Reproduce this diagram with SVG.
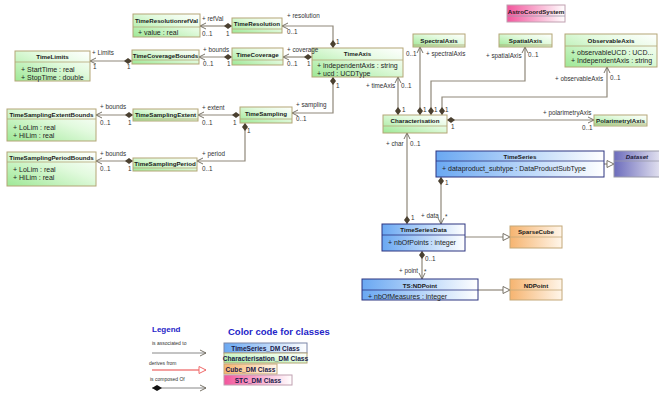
<svg xmlns="http://www.w3.org/2000/svg" width="659" height="394" viewBox="0 0 659 394">
<defs>
<linearGradient id="gG" x1="0" y1="1" x2="1" y2="0"><stop offset="0" stop-color="#9ee896"/><stop offset="0.6" stop-color="#e2fade"/><stop offset="1" stop-color="#ffffff"/></linearGradient>
<linearGradient id="gB" x1="0" y1="0" x2="1" y2="0"><stop offset="0" stop-color="#6aa8f2"/><stop offset="1" stop-color="#ffffff"/></linearGradient>
<linearGradient id="gP" x1="0" y1="0" x2="1" y2="0"><stop offset="0" stop-color="#6c6cbc"/><stop offset="1" stop-color="#ecebf4"/></linearGradient>
<linearGradient id="gO" x1="0" y1="0" x2="1" y2="0"><stop offset="0" stop-color="#f6b470"/><stop offset="1" stop-color="#fff6ea"/></linearGradient>
<linearGradient id="gK" x1="0" y1="0" x2="1" y2="0"><stop offset="0" stop-color="#f2559c"/><stop offset="1" stop-color="#ffffff"/></linearGradient>
<marker id="dia" markerUnits="userSpaceOnUse" markerWidth="12" markerHeight="8" refX="0" refY="4" orient="auto" viewBox="0 0 12 8" overflow="visible"><path d="M0,4 L4,1 L8,4 L4,7 z" fill="#4a4030"/></marker>
<marker id="arr" markerUnits="userSpaceOnUse" markerWidth="8" markerHeight="8" refX="7" refY="4" orient="auto" viewBox="0 0 8 8" overflow="visible"><path d="M1,1 L7,4 L1,7" fill="none" stroke="#6a6458" stroke-width="0.9"/></marker>
<marker id="tri" markerUnits="userSpaceOnUse" markerWidth="9" markerHeight="9" refX="8" refY="4.5" orient="auto" viewBox="0 0 9 9" overflow="visible"><path d="M1,1 L8,4.5 L1,8 z" fill="#fff" stroke="#6a6458" stroke-width="0.9"/></marker>
<marker id="triP" markerUnits="userSpaceOnUse" markerWidth="9" markerHeight="9" refX="8" refY="4.5" orient="auto" viewBox="0 0 9 9" overflow="visible"><path d="M1,1 L8,4.5 L1,8 z" fill="#fff" stroke="#f06a6a" stroke-width="1"/></marker>
<marker id="diaL" markerUnits="userSpaceOnUse" markerWidth="12" markerHeight="8" refX="0" refY="4" orient="auto" viewBox="0 0 12 8" overflow="visible"><path d="M0,4 L5,1 L10,4 L5,7 z" fill="#111"/></marker>
</defs>
<style>
text{font-family:"Liberation Sans",Arial,sans-serif;}
.n{font-size:6.2px;font-weight:bold;fill:#1a1a1a;text-anchor:middle;}
.ni{font-size:6.2px;font-weight:bold;font-style:italic;fill:#1a1a3a;text-anchor:middle;}
.a{font-size:7px;fill:#222;}
.l{font-size:6.3px;fill:#333;}
.g{fill:url(#gG);stroke:#b4a676;stroke-width:1;}
.b{fill:url(#gB);stroke:#2c3480;stroke-width:1;}
.p{fill:url(#gP);stroke:#9a9aa8;stroke-width:1;}
.o{fill:url(#gO);stroke:#c4a878;stroke-width:1;}
.k{fill:url(#gK);stroke:#c0a0b0;stroke-width:1;}
.sg{stroke:#b4a676;stroke-width:0.8;fill:none;}
.sb{stroke:#2c3480;stroke-width:0.8;fill:none;}
.so{stroke:#c4a878;stroke-width:0.8;fill:none;}
.sp{stroke:#9a9aa8;stroke-width:0.8;fill:none;}
.c{fill:none;stroke:#8f887a;stroke-width:1.2;}
.cd{marker-start:url(#dia);marker-end:url(#arr);}
.leg{font-size:5px;fill:#333;}
.lt{font-weight:bold;fill:#2424c8;}
.lb{font-size:6.6px;font-weight:bold;fill:#1a1a4a;text-anchor:middle;}
</style>

<g id="connectors">
<path class="c cd" d="M232,26 H200"/>
<path class="c cd" d="M333,48 V26 H282"/>
<path class="c cd" d="M232,57 H199"/>
<path class="c cd" d="M312,57 H283"/>
<path class="c cd" d="M132,61 H90"/>
<path class="c cd" d="M333,77 V113 H292"/>
<path class="c cd" d="M240,115 H198"/>
<path class="c cd" d="M133,115 H96"/>
<path class="c cd" d="M245,123 V161 H197"/>
<path class="c cd" d="M133,161 H96"/>
<path class="c cd" d="M398,115 V77"/>
<path class="c cd" d="M420,115 V47"/>
<path class="c cd" d="M431,115 V81 H525 V47"/>
<path class="c cd" d="M442,115 V97 H607 V67"/>
<path class="c cd" d="M447,120 H594"/>
<path class="c cd" d="M407,224 V133"/>
<path class="c cd" d="M441,177 V224"/>
<path class="c cd" d="M422,251 V279"/>
<path class="c" style="marker-end:url(#tri)" d="M604,164 H614"/>
<path class="c" style="marker-end:url(#tri)" d="M465,237 H510"/>
<path class="c" style="marker-end:url(#tri)" d="M478,290 H510"/>
</g>

<g id="TimeResolutionrefVal"><rect class="g" x="133" y="14" width="67" height="23"/><line class="sg" x1="133" y1="27" x2="200" y2="27"/><text class="n" x="166.5" y="23">TimeResolutionrefVal</text><text class="a" x="138" y="34.5">+ value : real</text></g>
<g id="TimeResolution"><rect class="g" x="232" y="18" width="50" height="15"/><line class="sg" x1="232" y1="29" x2="282" y2="29"/><text class="n" x="257" y="26">TimeResolution</text></g>
<g id="TimeCoverageBounds"><rect class="g" x="132" y="50" width="67" height="14"/><line class="sg" x1="132" y1="60" x2="199" y2="60"/><text class="n" x="165.5" y="57.5">TimeCoverageBounds</text></g>
<g id="TimeCoverage"><rect class="g" x="232" y="48" width="51" height="17"/><line class="sg" x1="232" y1="60" x2="283" y2="60"/><text class="n" x="257.5" y="57">TimeCoverage</text></g>
<g id="TimeLimits"><rect class="g" x="15" y="51" width="75" height="30"/><line class="sg" x1="15" y1="62" x2="90" y2="62"/><text class="n" x="52.5" y="59">TimeLimits</text><text class="a" x="21" y="71.5">+ StartTime : real</text><text class="a" x="21" y="79.5">+ StopTime : double</text></g>
<g id="TimeAxis"><rect class="g" x="312" y="48" width="91" height="29"/><line class="sg" x1="312" y1="60" x2="403" y2="60"/><text class="n" x="357.5" y="56">TimeAxis</text><text class="a" x="317" y="67.5">+ independentAxis : string</text><text class="a" x="317" y="75.5">+ ucd : UCDType</text></g>
<g id="TimeSampling"><rect class="g" x="240" y="107" width="52" height="16"/><line class="sg" x1="240" y1="119" x2="292" y2="119"/><text class="n" x="266" y="116">TimeSampling</text></g>
<g id="TimeSamplingExtent"><rect class="g" x="133" y="109" width="65" height="12"/><line class="sg" x1="133" y1="119" x2="198" y2="119"/><text class="n" x="165.5" y="117">TimeSamplingExtent</text></g>
<g id="TimeSamplingExtentBounds"><rect class="g" x="7" y="109" width="89" height="32"/><line class="sg" x1="7" y1="119" x2="96" y2="119"/><text class="n" x="51.5" y="117">TimeSamplingExtentBounds</text><text class="a" x="13" y="129.5">+ LoLim : real</text><text class="a" x="13" y="137.5">+ HiLim : real</text></g>
<g id="TimeSamplingPeriod"><rect class="g" x="133" y="158" width="64" height="13"/><line class="sg" x1="133" y1="168" x2="197" y2="168"/><text class="n" x="165" y="166">TimeSamplingPeriod</text></g>
<g id="TimeSamplingPeriodBounds"><rect class="g" x="7" y="152" width="89" height="34"/><line class="sg" x1="7" y1="162" x2="96" y2="162"/><text class="n" x="51.5" y="160">TimeSamplingPeriodBounds</text><text class="a" x="13" y="171.5">+ LoLim : real</text><text class="a" x="13" y="179.5">+ HiLim : real</text></g>
<g id="SpectralAxis"><rect class="g" x="413" y="34" width="52" height="13"/><line class="sg" x1="413" y1="45" x2="465" y2="45"/><text class="n" x="439" y="42.5">SpectralAxis</text></g>
<g id="SpatialAxis"><rect class="g" x="499" y="34" width="53" height="13"/><line class="sg" x1="499" y1="45" x2="552" y2="45"/><text class="n" x="525.5" y="42.5">SpatialAxis</text></g>
<g id="ObservableAxis"><rect class="g" x="565" y="34" width="92" height="33"/><line class="sg" x1="565" y1="46" x2="657" y2="46"/><text class="n" x="611" y="42.5">ObservableAxis</text><text class="a" x="571" y="54.5">+ observableUCD : UCD...</text><text class="a" x="571" y="63">+ IndependentAxis : string</text></g>
<g id="AstroCoordSystem"><rect class="k" x="507" y="5" width="58" height="17"/><line class="sp" x1="507" y1="16" x2="565" y2="16"/><text class="n" x="536" y="13.5">AstroCoordSystem</text></g>
<g id="Characterisation"><rect class="g" x="383" y="115" width="64" height="18"/><line class="sg" x1="383" y1="126" x2="447" y2="126"/><text class="n" x="415" y="123">Characterisation</text></g>
<g id="PolarimetryIAxis"><rect class="g" x="594" y="115" width="53" height="11"/><line class="sg" x1="594" y1="124" x2="647" y2="124"/><text class="n" x="620.5" y="122.5">PolarimetryIAxis</text></g>
<g id="TimeSeries"><rect class="b" x="436" y="151" width="168" height="26"/><line class="sb" x1="436" y1="161" x2="604" y2="161"/><text class="n" x="520" y="158.5">TimeSeries</text><text class="a" x="442" y="171">+ dataproduct_subtype : DataProductSubType</text></g>
<g id="Dataset"><rect class="p" x="614" y="151" width="50" height="26"/><line class="sp" x1="614" y1="161" x2="664" y2="161"/><text class="ni" x="637" y="158.5">Dataset</text></g>
<g id="TimeSeriesData"><rect class="b" x="382" y="224" width="83" height="27"/><line class="sb" x1="382" y1="235" x2="465" y2="235"/><text class="n" x="423.5" y="232">TimeSeriesData</text><text class="a" x="388" y="245">+ nbOfPoints : integer</text></g>
<g id="SparseCube"><rect class="o" x="510" y="226" width="52" height="22"/><line class="so" x1="510" y1="237" x2="562" y2="237"/><text class="n" x="536" y="234">SparseCube</text></g>
<g id="TS_NDPoint"><rect class="b" x="362" y="279" width="116" height="21"/><line class="sb" x1="362" y1="290" x2="478" y2="290"/><text class="n" x="420" y="287.5">TS:NDPoint</text><text class="a" x="368" y="299">+ nbOfMeasures : integer</text></g>
<g id="NDPoint"><rect class="o" x="510" y="279" width="52" height="21"/><line class="so" x1="510" y1="290" x2="562" y2="290"/><text class="n" x="536" y="287.5">NDPoint</text></g>

<g id="labels">
<text class="l" x="202" y="21">+ refVal</text>
<text class="l" x="202" y="35.5">0..1</text>
<text class="l" x="226" y="35.5">1</text>
<text class="l" x="287" y="18">+ resolution</text>
<text class="l" x="287" y="33.5">0..1</text>
<text class="l" x="336" y="43.5">1</text>
<text class="l" x="203" y="52">+ bounds</text>
<text class="l" x="203" y="66">0..1</text>
<text class="l" x="227" y="66">1</text>
<text class="l" x="287" y="51.5">+ coverage</text>
<text class="l" x="287" y="66">0..1</text>
<text class="l" x="307" y="66">1</text>
<text class="l" x="92" y="55">+ Limits</text>
<text class="l" x="93" y="69">1</text>
<text class="l" x="127" y="69">1</text>
<text class="l" x="296" y="106.5">+ sampling</text>
<text class="l" x="296" y="121">0..1</text>
<text class="l" x="336" y="88">1</text>
<text class="l" x="202" y="110">+ extent</text>
<text class="l" x="202" y="125">0..1</text>
<text class="l" x="233" y="125">1</text>
<text class="l" x="100" y="109">+ bounds</text>
<text class="l" x="100" y="124.5">0..1</text>
<text class="l" x="128" y="124.5">1</text>
<text class="l" x="202" y="155.5">+ period</text>
<text class="l" x="202" y="171">0..1</text>
<text class="l" x="247" y="133">1</text>
<text class="l" x="100" y="155.5">+ bounds</text>
<text class="l" x="100" y="171">0..1</text>
<text class="l" x="128" y="171">1</text>
<text class="l" x="366" y="88">+ timeAxis</text>
<text class="l" x="401" y="88">0..1</text>
<text class="l" x="402" y="111.5">1</text>
<text class="l" x="406" y="55.5">0..1</text>
<text class="l" x="426" y="55.5">+ spectralAxis</text>
<text class="l" x="423" y="111.5">1</text>
<text class="l" x="486" y="58">+ spatialAxis</text>
<text class="l" x="528" y="56.5">0..1</text>
<text class="l" x="434" y="111.5">1</text>
<text class="l" x="555" y="81">+ observableAxis</text>
<text class="l" x="610" y="80">0..1</text>
<text class="l" x="445" y="111.5">1</text>
<text class="l" x="543" y="114.5">+ polarimetryAxis</text>
<text class="l" x="582" y="129.5">0..1</text>
<text class="l" x="451" y="129">1</text>
<text class="l" x="386" y="146">+ char</text>
<text class="l" x="410" y="146">0..1</text>
<text class="l" x="411" y="219.5">1</text>
<text class="l" x="421" y="218">+ data</text>
<text class="l" x="445" y="219">*</text>
<text class="l" x="445" y="185">1</text>
<text class="l" x="425" y="260.5">0..1</text>
<text class="l" x="399" y="273">+ point</text>
<text class="l" x="424" y="274">*</text>
</g>

<g id="legend">
<text class="lt" x="152" y="332" font-size="8px">Legend</text>
<text class="leg" x="152" y="345">is associated to</text>
<path fill="none" stroke="#888" stroke-width="1" style="marker-end:url(#arr)" d="M152,353 H206"/>
<text class="leg" x="149" y="365">derives from</text>
<path fill="none" stroke="#f4a0a0" stroke-width="2" style="marker-end:url(#triP)" d="M152,370 H206"/>
<text class="leg" x="150" y="381">is composed Of</text>
<path fill="none" stroke="#888" stroke-width="1" style="marker-start:url(#diaL);marker-end:url(#arr)" d="M152,388 H206"/>
</g>
<g id="colorcode">
<text class="lt" x="228" y="334.5" font-size="9.5px">Color code for classes</text>
<rect class="b" x="224" y="343" width="83" height="10" style="stroke:#7a86a8"/><text class="lb" x="265.5" y="350.5">TimeSeries_DM Class</text>
<rect class="g" x="224" y="353" width="83" height="10"/><text class="lb" x="265.5" y="360.5">Characterisation_DM Class</text>
<rect class="o" x="224" y="364" width="53" height="10"/><text class="lb" x="250.5" y="371.5">Cube_DM Class</text>
<rect class="k" x="224" y="375" width="68" height="10"/><text class="lb" x="258" y="382.5">STC_DM Class</text>
</g>
</svg>
